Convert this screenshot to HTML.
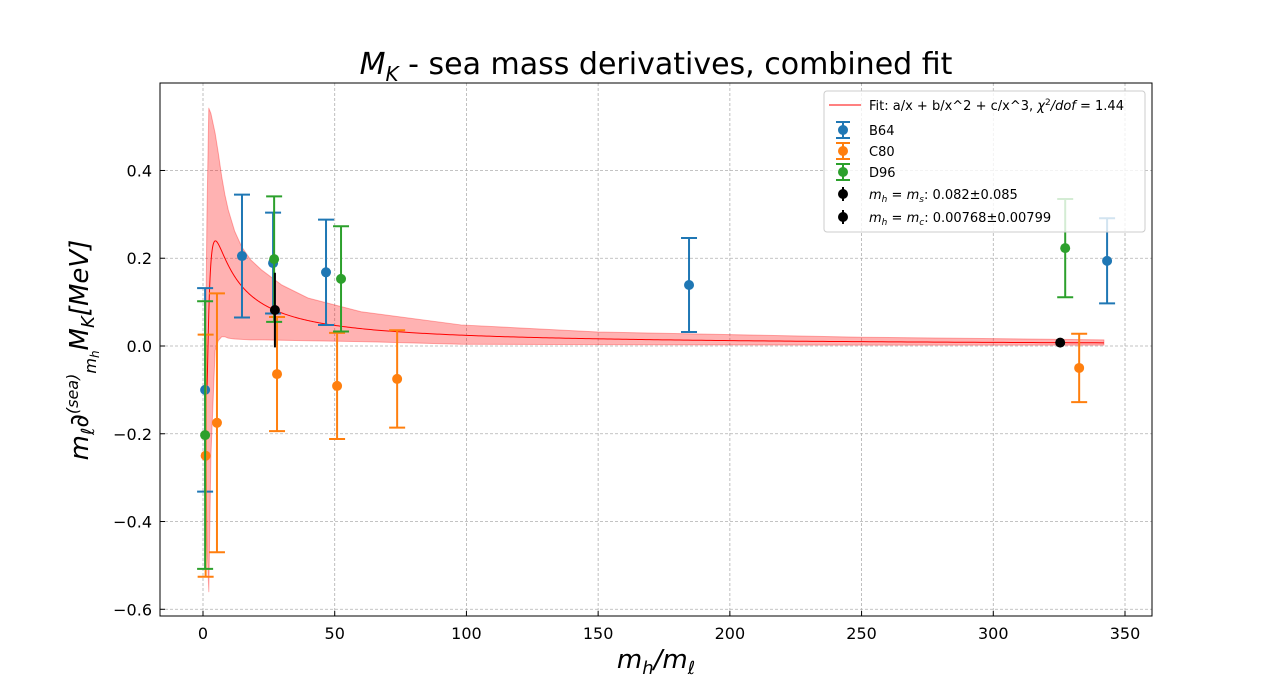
<!DOCTYPE html>
<html><head><meta charset="utf-8"><style>
body{margin:0;background:#fff;}
svg{display:block;font-family:"DejaVu Sans","Liberation Sans",sans-serif;}
</style></head><body>
<svg id="chart" width="1280" height="692" xmlns="http://www.w3.org/2000/svg"></svg>
<script>
// ---- data ----
const xTicks = [0, 50, 100, 150, 200, 250, 300, 350];
const yTicks = [-0.6, -0.4, -0.2, 0.0, 0.2, 0.4];
const b64X = [0.8, 14.8, 26.6, 46.7, 184.5, 343.2];
const b64Y = [-0.100, 0.205, 0.189, 0.168, 0.139, 0.194];
const b64E = [0.232, 0.140, 0.115, 0.120, 0.107, 0.097];
const c80X = [1.0, 5.3, 28.1, 50.9, 73.7, 332.6];
const c80Y = [-0.250, -0.175, -0.064, -0.091, -0.075, -0.050];
const c80E = [0.276, 0.295, 0.130, 0.121, 0.111, 0.078];
const d96X = [0.8, 27.0, 52.4, 327.3];
const d96Y = [-0.203, 0.198, 0.153, 0.223];
const d96E = [0.305, 0.143, 0.120, 0.112];
const msX = [27.3], msY = [0.082], msE = [0.085];
const mcX = [325.4], mcY = [0.00768], mcE = [0.00799];
const fitParams = [2.5, -7.62, 5.46]; // a, b, c
const fitRange = [1.45, 342];
const bandX = [0.9, 1.5, 2.2, 3.0, 4.6, 5.8, 7.1, 8.3, 9.6, 12, 14.7, 18, 22.3, 29.9, 40, 60, 98, 150, 250, 342];
const bandUp = [-0.05, 0.30, 0.542, 0.53, 0.485, 0.44, 0.386, 0.345, 0.31, 0.262, 0.226, 0.197, 0.173, 0.139, 0.109, 0.078, 0.048, 0.032, 0.020, 0.014];
const bandLo = [-0.15, -0.45, -0.56, -0.25, -0.01, 0.012, 0.021, 0.021, 0.018, 0.016, 0.015, 0.014, 0.014, 0.013, 0.012, 0.010, 0.004, 0.003, 0.002, 0.002];

// ---- axes ----
const L=160,R=1152,T=83,B=616;
const sx=v=>203+v*(1125-203)/350;
const sy=v=>346-v*438.8;
const svg=document.getElementById('chart');
const NS='http://www.w3.org/2000/svg';
function mk(tag,attrs,parent){const e=document.createElementNS(NS,tag);for(const k in attrs)e.setAttribute(k,attrs[k]);(parent||svg).appendChild(e);return e;}

// grid
const grid=mk('g',{});


xTicks.forEach(t=>{mk('line',{x1:sx(t),x2:sx(t),y1:T,y2:B,stroke:'#b0b0b0','stroke-width':0.8,'stroke-dasharray':'3,2'},grid);});
yTicks.forEach(t=>{mk('line',{x1:L,x2:R,y1:sy(t),y2:sy(t),stroke:'#b0b0b0','stroke-width':0.8,'stroke-dasharray':'3,2'},grid);});

// band
let d='';
bandX.forEach((x,i)=>{d+=(i?'L':'M')+sx(x)+','+sy(bandUp[i]);});
for(let i=bandX.length-1;i>=0;i--)d+='L'+sx(bandX[i])+','+sy(bandLo[i]);
const band=mk('path',{d:d+'Z',fill:'rgba(255,0,0,0.3)',stroke:'rgba(255,0,0,0.3)','stroke-width':1,'stroke-linejoin':'round'});



// fit line
const f=x=>fitParams[0]/x+fitParams[1]/(x*x)+fitParams[2]/(x*x*x);
let fd='';
for(let i=0;i<=600;i++){const x=fitRange[0]*Math.pow(fitRange[1]/fitRange[0],i/600);fd+=(i?'L':'M')+sx(x).toFixed(2)+','+sy(f(x)).toFixed(2);}
const fl=mk('path',{d:fd,fill:'none',stroke:'#ff0000','stroke-width':1});



function series(xs,ys,es,color,name,caps){
  const g=mk('g',{});
  
  
  xs.forEach((x,i)=>{
    const cx=sx(x);
    mk('line',{x1:cx,x2:cx,y1:sy(ys[i]+es[i]),y2:sy(ys[i]-es[i]),stroke:color,'stroke-width':2},g);
    if(caps){
      mk('line',{x1:cx-8,x2:cx+8,y1:sy(ys[i]+es[i]),y2:sy(ys[i]+es[i]),stroke:color,'stroke-width':2},g);
      mk('line',{x1:cx-8,x2:cx+8,y1:sy(ys[i]-es[i]),y2:sy(ys[i]-es[i]),stroke:color,'stroke-width':2},g);
    }
    const c=mk('circle',{cx:cx,cy:sy(ys[i]),r:5,fill:color},g);
    
    
  });
}
series(b64X,b64Y,b64E,'#1f77b4','series-b64',true);
series(c80X,c80Y,c80E,'#ff7f0e','series-c80',true);
series(d96X,d96Y,d96E,'#2ca02c','series-d96',true);
series(msX,msY,msE,'#000000','point-mh-ms',false);
series(mcX,mcY,mcE,'#000000','point-mh-mc',false);

// frame
const fr=mk('rect',{x:L,y:T,width:R-L,height:B-T,fill:'none',stroke:'#000','stroke-width':1});



// ticks
const ax=mk('g',{});


xTicks.forEach(t=>{
  mk('line',{x1:sx(t),x2:sx(t),y1:B,y2:B-5,stroke:'#000'},ax);
  const tx=mk('text',{x:sx(t),y:B+23,'text-anchor':'middle','font-size':16},ax);
  tx.textContent=String(t);
  
  
});
yTicks.forEach(t=>{
  mk('line',{x1:L,x2:L+5,y1:sy(t),y2:sy(t),stroke:'#000'},ax);
  const tx=mk('text',{x:L-8,y:sy(t)+6,'text-anchor':'end','font-size':16},ax);
  tx.textContent=(t<0?'\u2212':'')+Math.abs(t).toFixed(1);
  
  
});
</script>
<svg style="position:absolute;left:0;top:0" width="1280" height="692" xmlns="http://www.w3.org/2000/svg" font-family="DejaVu Sans, Liberation Sans, sans-serif">
  <text x="656" y="74" text-anchor="middle" font-size="30"><tspan font-style="italic">M</tspan><tspan font-style="italic" font-size="20" dy="7">K</tspan><tspan dy="-7"> - sea mass derivatives, combined fit</tspan></text>
  <text x="656" y="668" text-anchor="middle" font-size="26" font-style="italic">m<tspan font-size="18" dy="6">h</tspan><tspan dy="-6">/m</tspan><tspan font-size="18" dy="6">ℓ</tspan></text>
  <text transform="translate(88,350) rotate(-90)" text-anchor="middle" font-size="26" font-style="italic">m<tspan font-size="18" dy="6">ℓ</tspan><tspan dy="-6">∂</tspan><tspan font-size="16" dy="-10">(sea)</tspan><tspan font-size="16" dy="18">m</tspan><tspan font-size="12" dy="3">h</tspan><tspan dy="-11">M</tspan><tspan font-size="18" dy="6">K</tspan><tspan dy="-6">[MeV]</tspan></text>
  <g>
    <rect x="824" y="91" width="321" height="141" rx="3" fill="rgba(255,255,255,0.8)" stroke="#cccccc"/>
    <line x1="829" x2="861" y1="105" y2="105" stroke="#ff0000" stroke-width="1"/>
    <text x="869" y="110" font-size="13">Fit: a/x + b/x^2 + c/x^3, <tspan font-style="italic">χ</tspan><tspan font-size="9" dy="-5">2</tspan><tspan dy="5" font-style="italic">/dof</tspan> = 1.44</text>
    <g stroke="#1f77b4" stroke-width="2"><line x1="843" x2="843" y1="122" y2="138"/><line x1="836" x2="850" y1="122" y2="122"/><line x1="836" x2="850" y1="138" y2="138"/></g><circle cx="843" cy="130" r="5" fill="#1f77b4"/>
    <text x="869" y="135" font-size="13">B64</text>
    <g stroke="#ff7f0e" stroke-width="2"><line x1="843" x2="843" y1="143" y2="159"/><line x1="836" x2="850" y1="143" y2="143"/><line x1="836" x2="850" y1="159" y2="159"/></g><circle cx="843" cy="151" r="5" fill="#ff7f0e"/>
    <text x="869" y="156" font-size="13">C80</text>
    <g stroke="#2ca02c" stroke-width="2"><line x1="843" x2="843" y1="164" y2="180"/><line x1="836" x2="850" y1="164" y2="164"/><line x1="836" x2="850" y1="180" y2="180"/></g><circle cx="843" cy="172" r="5" fill="#2ca02c"/>
    <text x="869" y="177" font-size="13">D96</text>
    <line x1="843" x2="843" y1="187" y2="201" stroke="#000" stroke-width="2"/><circle cx="843" cy="194" r="5" fill="#000"/>
    <text x="869" y="199" font-size="13"><tspan font-style="italic">m</tspan><tspan font-size="9" dy="3" font-style="italic">h</tspan><tspan dy="-3"> = </tspan><tspan font-style="italic">m</tspan><tspan font-size="9" dy="3" font-style="italic">s</tspan><tspan dy="-3">: 0.082±0.085</tspan></text>
    <line x1="843" x2="843" y1="210" y2="224" stroke="#000" stroke-width="2"/><circle cx="843" cy="217" r="5" fill="#000"/>
    <text x="869" y="222" font-size="13"><tspan font-style="italic">m</tspan><tspan font-size="9" dy="3" font-style="italic">h</tspan><tspan dy="-3"> = </tspan><tspan font-style="italic">m</tspan><tspan font-size="9" dy="3" font-style="italic">c</tspan><tspan dy="-3">: 0.00768±0.00799</tspan></text>
  </g>
</svg>
</body></html>
